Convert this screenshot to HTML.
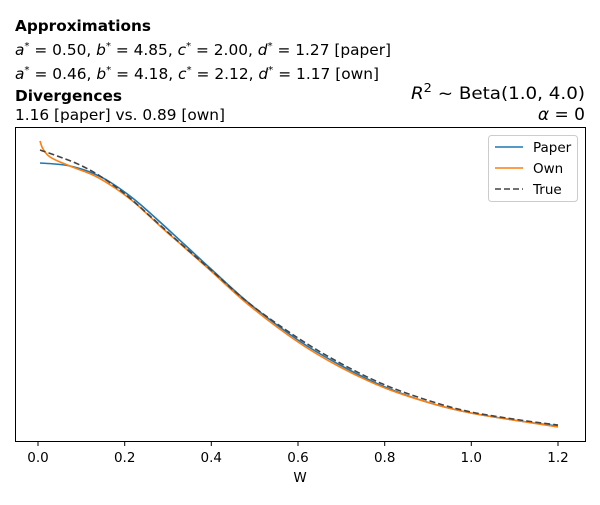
<!DOCTYPE html>
<html><head><style>
body{margin:0;background:#fff;width:600px;height:500px;overflow:hidden}
svg text{font-family:"DejaVu Sans","Liberation Sans",sans-serif}
</style></head><body>
<svg id="s" width="600" height="500" viewBox="0 0 600 500" xmlns="http://www.w3.org/2000/svg">
<text x="15" y="31" font-size="15" font-weight="bold" fill="#000" textLength="136" lengthAdjust="spacingAndGlyphs">Approximations</text>
<text x="15" y="55" font-size="15" fill="#000" textLength="376" lengthAdjust="spacingAndGlyphs"><tspan font-style="italic">a</tspan><tspan dy="-6" font-size="10">*</tspan><tspan dy="6"> = 0.50, </tspan><tspan font-style="italic">b</tspan><tspan dy="-6" font-size="10">*</tspan><tspan dy="6"> = 4.85, </tspan><tspan font-style="italic">c</tspan><tspan dy="-6" font-size="10">*</tspan><tspan dy="6"> = 2.00, </tspan><tspan font-style="italic">d</tspan><tspan dy="-6" font-size="10">*</tspan><tspan dy="6"> = 1.27 [paper]</tspan></text>
<text x="15" y="79" font-size="15" fill="#000" textLength="364" lengthAdjust="spacingAndGlyphs"><tspan font-style="italic">a</tspan><tspan dy="-6" font-size="10">*</tspan><tspan dy="6"> = 0.46, </tspan><tspan font-style="italic">b</tspan><tspan dy="-6" font-size="10">*</tspan><tspan dy="6"> = 4.18, </tspan><tspan font-style="italic">c</tspan><tspan dy="-6" font-size="10">*</tspan><tspan dy="6"> = 2.12, </tspan><tspan font-style="italic">d</tspan><tspan dy="-6" font-size="10">*</tspan><tspan dy="6"> = 1.17 [own]</tspan></text>
<text x="15" y="101" font-size="15" font-weight="bold" fill="#000" textLength="107" lengthAdjust="spacingAndGlyphs">Divergences</text>
<text x="15" y="120" font-size="15" fill="#000" textLength="210" lengthAdjust="spacingAndGlyphs">1.16 [paper] vs. 0.89 [own]</text>
<text x="411" y="99" font-size="17" fill="#000" textLength="174" lengthAdjust="spacingAndGlyphs"><tspan font-style="italic">R</tspan><tspan dy="-7" font-size="12">2</tspan><tspan dy="7"> ~   Beta(1.0, 4.0)</tspan></text>
<text x="585" y="120" font-size="17" text-anchor="end" fill="#000"><tspan font-style="italic">α</tspan> = 0</text>
<g fill="none" stroke-width="1.6">
<path id="p1" stroke="#1f77b4"/>
<path id="p2" stroke="#ff7f0e"/>
<path id="p3" stroke="#444" stroke-dasharray="6,3"/>
</g>
<rect x="15.5" y="127.5" width="570" height="314" fill="none" stroke="#000" stroke-width="1"/>
<g stroke="#000"><line x1="38" y1="442" x2="38" y2="446"/><line x1="124.7" y1="442" x2="124.7" y2="446"/><line x1="211.3" y1="442" x2="211.3" y2="446"/><line x1="298" y1="442" x2="298" y2="446"/><line x1="384.7" y1="442" x2="384.7" y2="446"/><line x1="471.3" y1="442" x2="471.3" y2="446"/><line x1="558" y1="442" x2="558" y2="446"/></g>
<g font-size="13.5" text-anchor="middle" fill="#000"><text x="38" y="462">0.0</text><text x="124.7" y="462">0.2</text><text x="211.3" y="462">0.4</text><text x="298" y="462">0.6</text><text x="384.7" y="462">0.8</text><text x="471.3" y="462">1.0</text><text x="558" y="462">1.2</text>
<text x="300" y="482">W</text></g>
<rect x="488.5" y="135.5" width="89" height="66" rx="3" fill="#fff" fill-opacity="0.8" stroke="#ccc"/>
<line x1="495" y1="147" x2="523" y2="147" stroke="#1f77b4" stroke-width="1.6"/>
<line x1="495" y1="168" x2="523" y2="168" stroke="#ff7f0e" stroke-width="1.6"/>
<line x1="495" y1="189" x2="523" y2="189" stroke="#444" stroke-width="1.6" stroke-dasharray="6,3"/>
<g font-size="13.5" fill="#000"><text x="533" y="152">Paper</text><text x="533" y="173">Own</text><text x="533" y="194">True</text></g>
</svg>
<script>
function cr(pts){var d="M"+pts[0][0]+","+pts[0][1];for(var i=0;i<pts.length-1;i++){var p0=pts[i-1]||pts[i],p1=pts[i],p2=pts[i+1],p3=pts[i+2]||p2;
var c1x=p1[0]+(p2[0]-p0[0])/6,c1y=p1[1]+(p2[1]-p0[1])/6,c2x=p2[0]-(p3[0]-p1[0])/6,c2y=p2[1]-(p3[1]-p1[1])/6;
d+=" C"+c1x.toFixed(1)+","+c1y.toFixed(1)+" "+c2x.toFixed(1)+","+c2y.toFixed(1)+" "+p2[0]+","+p2[1];}return d;}
document.getElementById("p1").setAttribute("d",cr([[40,163],[55,164],[70,166],[90,172],[110,182],[135,200],[160,222],[185,245],[211,269],[250,304],[298,340],[340,365],[385,387],[430,403],[471,413],[520,421],[558,426]]));
document.getElementById("p2").setAttribute("d",cr([[40,141],[42,147],[45,152],[50,157],[60,162],[75,168],[95,176],[115,188],[135,203],[160,226],[185,248],[211,271],[250,306],[298,342],[340,367],[385,388],[430,403],[471,413],[520,421],[558,427]]));
document.getElementById("p3").setAttribute("d",cr([[40,150],[60,157],[80,165],[100,176],[125,194],[150,216],[180,243],[211,270],[250,304],[298,338],[340,363],[385,385],[430,401],[471,412],[520,420],[558,425]]));
</script>
</body></html>
